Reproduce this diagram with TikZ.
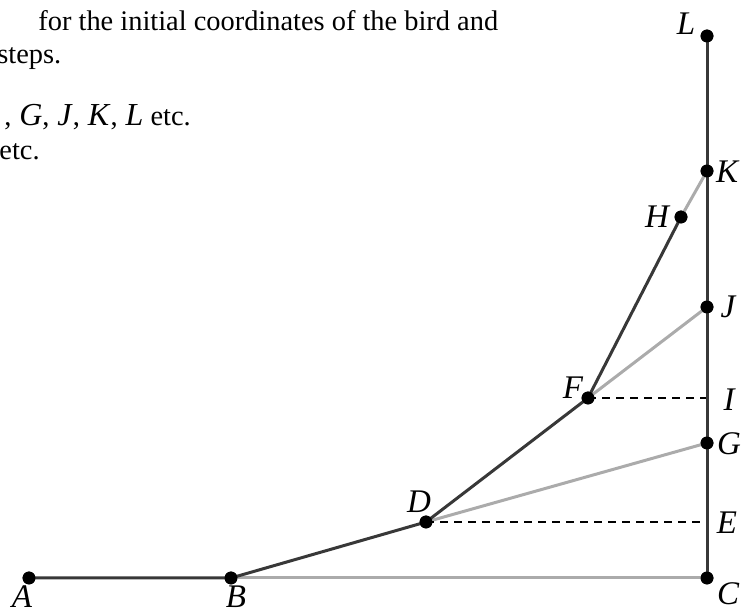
\documentclass[tikz,border=0pt]{standalone}
\usepackage{fontspec}
\setmainfont{Liberation Serif}
\tikzset{
  dot/.style={circle,fill=black,inner sep=0pt,minimum size=6.4pt},
  lbl/.style={font=\fontsize{16.5}{18}\selectfont\itshape,inner sep=0pt},
  dark/.style={draw=black!78,line width=1.5pt},
  light/.style={draw=black!33,line width=1.5pt},
  guide/.style={draw=black,line width=0.6pt,dash pattern=on 4pt off 3pt},
  txt/.style={font=\fontsize{14.2}{16.5}\selectfont,anchor=base west,inner sep=0pt}
}
\newcommand{\ltr}[1]{{\fontsize{16}{16.5}\selectfont\itshape #1\/}}
\begin{document}
\begin{tikzpicture}[x=0.5pt,y=0.5pt]
  \clip (0,0) rectangle (750,614);
  % text cut off on the left
  \node[txt] (t1) at (38,583) {for the initial coordinates of the bird and};
  \node[txt] (t2) at (-3,550) {steps.};
  \node[txt] (t3) at (4,488) {,\;\ltr{G},\;\ltr{J},\;\ltr{K},\;\ltr{L} etc.};
  \node[txt] (t4) at (-1,454) {etc.};

  % points
  \node[dot] (A) at (29,36) {};
  \node[dot] (B) at (231,36) {};
  \node[dot] (C) at (707,36) {};
  \node[dot] (D) at (426,92) {};
  \coordinate (E) at (707,92);
  \node[dot] (F) at (588,216) {};
  \coordinate (I) at (707,216);
  \node[dot] (G) at (707,171) {};
  \node[dot] (J) at (707,307) {};
  \node[dot] (H) at (681,397) {};
  \node[dot] (K) at (707,443) {};
  \node[dot] (L) at (707,578) {};

  % lines
  \draw[light] (B.center) -- (C.center);
  \draw[light] (D.center) -- (G.center);
  \draw[light] (F.center) -- (J.center);
  \draw[light] (H.center) -- (K.center);
  \draw[guide] (D.center) -- (E);
  \draw[guide] (F.center) -- (I);
  \draw[dark] (C.center) -- (L.center);
  \draw[dark] (A.center) -- (B.center) -- (D.center) -- (F.center) -- (H.center);

  % dots on top
  \foreach \p in {A,B,C,D,F,G,J,H,K,L}
    \fill (\p) circle (3.2pt);

  % labels
  \node[lbl] (lA) at (22,17) {A};
  \node[lbl] (lB) at (236,17) {B};
  \node[lbl] (lC) at (728,20) {C};
  \node[lbl] (lD) at (419,112) {D};
  \node[lbl] (lE) at (727,91) {E};
  \node[lbl] (lF) at (573,226) {F};
  \node[lbl] (lG) at (729,170) {G};
  \node[lbl] (lH) at (657,397) {H};
  \node[lbl] (lI) at (729,214) {I};
  \node[lbl] (lJ) at (728,307) {J};
  \node[lbl] (lK) at (727,442) {K};
  \node[lbl] (lL) at (686,590) {L};
\end{tikzpicture}
\end{document}
